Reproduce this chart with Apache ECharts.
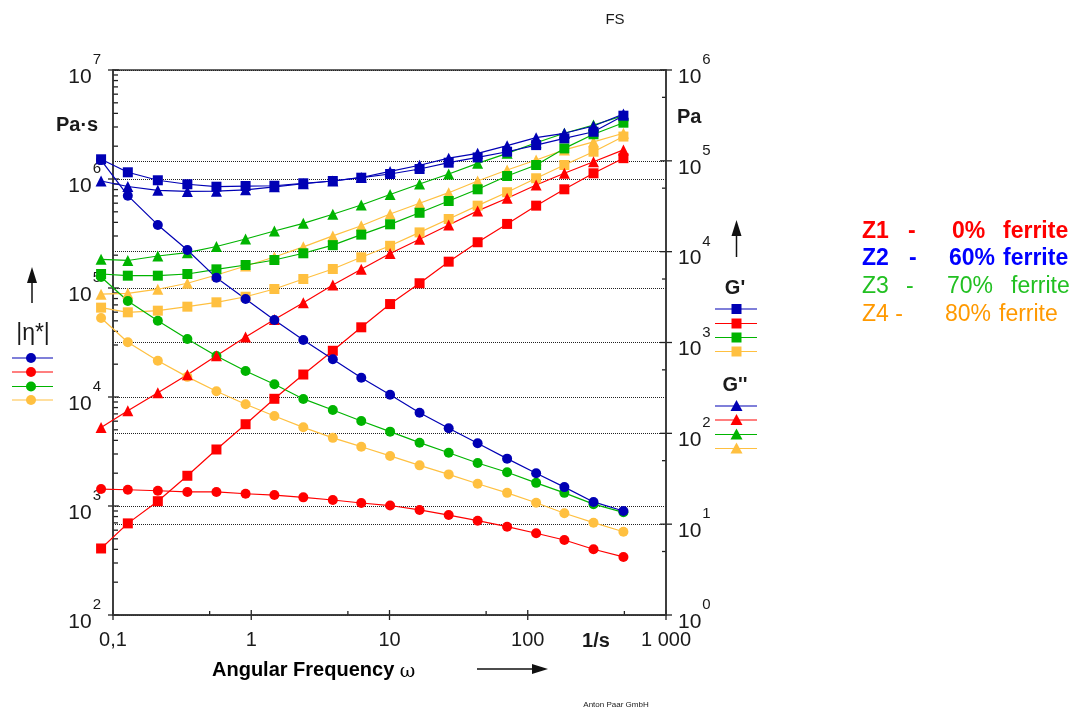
<!DOCTYPE html>
<html>
<head>
<meta charset="utf-8">
<title>FS</title>
<script src="https://cdn.jsdelivr.net/npm/echarts@6/dist/echarts.min.js"></script>
<style>
  html, body { margin: 0; padding: 0; background: #fff; }
  #chart { width: 1073px; height: 711px; }
</style>
</head>
<body>
<div id="chart"></div>
<script>
'use strict';

// angular frequency, 1/s
const freq = [0.082, 0.128, 0.211, 0.345, 0.56, 0.91, 1.47, 2.38, 3.89, 6.25, 10.1, 16.5, 26.8, 43.4, 70.9, 115, 184, 299, 492];

// |eta*|, Pa·s
const etaZ1 = [1430, 1410, 1380, 1345, 1345, 1295, 1260, 1200, 1135, 1065, 1010, 920, 826, 733, 646, 562, 488, 401, 341];
const etaZ2 = [1.49e6, 7.03e5, 3.79e5, 2.23e5, 1.24e5, 7.92e4, 5.08e4, 3.33e4, 2.22e4, 1.50e4, 1.05e4, 7180, 5160, 3760, 2720, 2000, 1490, 1090, 900];
const etaZ3 = [1.26e5, 7.6e4, 5.01e4, 3.40e4, 2.38e4, 1.73e4, 1.31e4, 9600, 7600, 6030, 4810, 3810, 3080, 2480, 2040, 1630, 1320, 1040, 875];
const etaZ4 = [5.31e4, 3.18e4, 2.15e4, 1.53e4, 1.13e4, 8590, 6690, 5270, 4220, 3500, 2880, 2360, 1950, 1600, 1320, 1070, 858, 703, 581];

// G', Pa
const gpZ1 = [5.4, 10.2, 17.9, 34.1, 66.4, 126, 240, 444, 811, 1470, 2650, 4490, 7760, 12700, 20200, 32100, 48600, 72900, 107000];
const gpZ2 = [1.04e5, 7.48e4, 6.11e4, 5.52e4, 5.19e4, 5.28e4, 5.32e4, 5.66e4, 6.0e4, 6.52e4, 7.16e4, 8.13e4, 9.54e4, 1.09e5, 1.26e5, 1.49e5, 1.77e5, 2.09e5, 3.14e5];
const gpZ3 = [5680, 5440, 5440, 5680, 6390, 7130, 8090, 9600, 11800, 15400, 20000, 26800, 36100, 48600, 68100, 90000, 137000, 196000, 263000];
const gpZ4 = [2420, 2150, 2240, 2480, 2770, 3190, 3880, 5000, 6440, 8670, 11600, 16300, 22900, 32100, 45100, 64300, 90000, 126000, 185000];

// G'', Pa
const gppZ1 = [116, 177, 280, 442, 715, 1150, 1790, 2740, 4290, 6390, 9550, 13700, 19700, 28100, 38700, 54200, 72900, 97800, 132000];
const gppZ2 = [6.0e4, 5.22e4, 4.74e4, 4.6e4, 4.63e4, 4.8e4, 5.18e4, 5.59e4, 6.0e4, 6.56e4, 7.64e4, 8.94e4, 1.07e5, 1.21e5, 1.47e5, 1.80e5, 2.01e5, 2.42e5, 3.28e5];
const gppZ3 = [8240, 8000, 8960, 9750, 11400, 13800, 16900, 20500, 25800, 32600, 42600, 55600, 71600, 93900, 121000, 158000, 201000, 248000, 314000];
const gppZ4 = [3400, 3480, 3860, 4490, 5540, 6950, 8730, 11300, 14900, 19300, 26000, 34100, 44600, 60000, 79300, 102000, 132000, 162000, 201000];

// axes
const xRange = [0.1, 1000];
const xPad = 0.06;          // first points sit left of the 0,1 axis
const etaRange = [1e2, 1e7];
const gRange = [1e0, 1e6];
const xLabels = { '0.1': '0,1', '1': '1', '10': '10', '100': '100', '1000': '1 000' };
const leftMinor = [2, 3, 4, 5, 6, 7, 8, 9];
const rightMinor = [5];
const xMinor = [5];

const blue = '#0000b4', red = '#ff0000', green = '#00b400', orange = '#ffc040';
const FONT = '"Liberation Sans", Arial, sans-serif';
const INK = '#1a1a1a';

const W = 1073, H = 711;
const G = { left: 113, right: 407, top: 70, bottom: 96 };
const decadePx = (W - G.left - G.right) / Math.log10(xRange[1] / xRange[0]);
const padLeft = G.left - decadePx * Math.log10(xRange[0] / xPad);

const chart = echarts.init(document.getElementById('chart'), null, { renderer: 'canvas' });

function sup(v) {
  return '{b|10}{e|' + Math.round(Math.log10(v)) + '}';
}
const supRich = {
  b: { fontSize: 21, fontFamily: FONT, color: INK, padding: [14, 0, 0, 0] },
  e: { fontSize: 15, fontFamily: FONT, color: INK, padding: [0, 0, 20, 1] }
};

// series live on a hidden twin grid that reaches a little past the left axis
function line(name, vals, yIdx, symbol, color, size) {
  return {
    name: name, type: 'line', xAxisIndex: 1, yAxisIndex: yIdx, clip: false,
    data: freq.map((f, i) => [f, vals[i]]),
    symbol: symbol, symbolSize: size, showAllSymbol: true,
    lineStyle: { color: color, width: 1.2 },
    itemStyle: { color: color },
    emphasis: { disabled: true }
  };
}

const series = [
  line('eta Z4', etaZ4, 2, 'circle', orange, 10),
  line("G' Z4", gpZ4, 3, 'rect', orange, 10),
  line("G'' Z4", gppZ4, 3, 'triangle', orange, 11),
  line('eta Z3', etaZ3, 2, 'circle', green, 10),
  line("G' Z3", gpZ3, 3, 'rect', green, 10),
  line("G'' Z3", gppZ3, 3, 'triangle', green, 11),
  line('eta Z1', etaZ1, 2, 'circle', red, 10),
  line("G' Z1", gpZ1, 3, 'rect', red, 10),
  line("G'' Z1", gppZ1, 3, 'triangle', red, 11),
  line('eta Z2', etaZ2, 2, 'circle', blue, 10),
  line("G' Z2", gpZ2, 3, 'rect', blue, 10),
  line("G'' Z2", gppZ2, 3, 'triangle', blue, 11)
];

const gridLine = { show: true, lineStyle: { type: [1, 1], color: '#222', width: 1 } };
const hidden = { show: false, splitLine: { show: false } };

chart.setOption({
  animation: false,
  backgroundColor: '#fff',
  grid: [
    { left: G.left, right: G.right, top: G.top, bottom: G.bottom, show: true, borderColor: '#333', borderWidth: 1.5 },
    { left: padLeft, right: G.right, top: G.top, bottom: G.bottom }
  ],
  xAxis: [
    {
      type: 'log', logBase: 10, min: xRange[0], max: xRange[1], gridIndex: 0,
      axisLine: { lineStyle: { color: '#333', width: 1.5 } },
      axisTick: { show: false },
      splitLine: { show: false },
      axisLabel: {
        margin: 15, fontSize: 20, fontFamily: FONT, color: INK,
        formatter: v => xLabels[String(+v.toPrecision(6))] || String(v)
      }
    },
    Object.assign({ type: 'log', logBase: 10, min: xPad, max: xRange[1], gridIndex: 1 }, hidden)
  ],
  yAxis: [
    {
      type: 'log', logBase: 10, min: etaRange[0], max: etaRange[1], position: 'left', gridIndex: 0,
      axisLine: { show: true, lineStyle: { color: '#333', width: 1.5 } },
      axisTick: { show: false },
      splitLine: gridLine,
      axisLabel: { margin: 12, formatter: sup, rich: supRich }
    },
    {
      type: 'log', logBase: 10, min: gRange[0], max: gRange[1], position: 'right', gridIndex: 0,
      axisLine: { show: true, lineStyle: { color: '#333', width: 1.5 } },
      axisTick: { show: false },
      splitLine: gridLine,
      axisLabel: { margin: 12, formatter: sup, rich: supRich }
    },
    Object.assign({ type: 'log', logBase: 10, min: etaRange[0], max: etaRange[1], gridIndex: 1 }, hidden),
    Object.assign({ type: 'log', logBase: 10, min: gRange[0], max: gRange[1], gridIndex: 1 }, hidden)
  ],
  series: series
});

// legend blocks and annotations
function mark(kind, x, y, color) {
  if (kind === 'circle') return { type: 'circle', shape: { cx: x, cy: y, r: 5 }, style: { fill: color } };
  if (kind === 'rect') return { type: 'rect', shape: { x: x - 5, y: y - 5, width: 10, height: 10 }, style: { fill: color } };
  return { type: 'polygon', shape: { points: [[x, y - 6], [x + 6, y + 5], [x - 6, y + 5]] }, style: { fill: color } };
}
function keyRow(x1, x2, xm, y, kind, color) {
  return [
    { type: 'line', shape: { x1: x1, y1: y, x2: x2, y2: y }, style: { stroke: color, lineWidth: 1.2 } },
    mark(kind, xm, y, color)
  ];
}
function txt(s, x, y, opt) {
  return {
    type: 'text', x: x, y: y,
    style: Object.assign({ text: s, fontFamily: FONT, fontSize: 20, fill: INK, align: 'left', verticalAlign: 'middle' }, opt || {})
  };
}
function arrowUp(x, yTop, yBot) {
  return [
    { type: 'line', shape: { x1: x, y1: yTop + 12, x2: x, y2: yBot }, style: { stroke: '#111', lineWidth: 1.5 } },
    { type: 'polygon', shape: { points: [[x, yTop], [x + 5, yTop + 16], [x - 5, yTop + 16]] }, style: { fill: '#111' } }
  ];
}

const colors = [blue, red, green, orange];
let deco = [];
deco.push(txt('FS', 615, 20, { align: 'center', fontSize: 15 }));
deco.push(txt('Pa·s', 56, 125, { fontWeight: 'bold' }));
deco.push(txt('Pa', 677, 117, { fontWeight: 'bold' }));
deco = deco.concat(arrowUp(32, 267, 303));
deco.push(txt('|η*|', 33, 334, { align: 'center', fontSize: 23 }));
[358, 372, 386.5, 400].forEach((y, i) => { deco = deco.concat(keyRow(12, 53, 31, y, 'circle', colors[i])); });
deco = deco.concat(arrowUp(736.5, 220, 257));
deco.push(txt("G'", 735, 288, { align: 'center', fontWeight: 'bold' }));
[309, 323.5, 337.5, 351.5].forEach((y, i) => { deco = deco.concat(keyRow(715, 757, 736.5, y, 'rect', colors[i])); });
deco.push(txt("G''", 735, 385, { align: 'center', fontWeight: 'bold' }));
[406, 420, 434.5, 448.5].forEach((y, i) => { deco = deco.concat(keyRow(715, 757, 736.5, y, 'triangle', colors[i])); });
deco.push({
  type: 'text', x: 212, y: 670,
  style: {
    text: '{a|Angular Frequency }{w|ω}', verticalAlign: 'middle',
    rich: {
      a: { fontFamily: FONT, fontSize: 20, fontWeight: 'bold', color: INK },
      w: { fontFamily: '"DejaVu Serif", serif', fontSize: 19, color: INK, padding: [4, 0, 0, 0] }
    }
  }
});
deco.push({ type: 'line', shape: { x1: 477, y1: 669, x2: 536, y2: 669 }, style: { stroke: '#111', lineWidth: 1.5 } });
deco.push({ type: 'polygon', shape: { points: [[548, 669], [532, 664], [532, 674]] }, style: { fill: '#111' } });
deco.push(txt('1/s', 596, 641, { align: 'center', fontWeight: 'bold' }));
deco.push(txt('Anton Paar GmbH', 616, 705, { align: 'center', fontSize: 8 }));

// sample key text
const keyText = [
  { y: 231.5, color: '#ff0000', bold: true, parts: [['Z1', 862], ['-', 908], ['0%', 952], ['ferrite', 1003]] },
  { y: 259, color: '#0000ff', bold: true, parts: [['Z2', 862], ['-', 909], ['60%', 949], ['ferrite', 1003]] },
  { y: 287, color: '#22c022', bold: false, parts: [['Z3', 862], ['-', 906], ['70%', 947], ['ferrite', 1011]] },
  { y: 315, color: '#ff9900', bold: false, parts: [['Z4 -', 862], ['80%', 945], ['ferrite', 999]] }
];
keyText.forEach(row => {
  row.parts.forEach(p => {
    deco.push(txt(p[0], p[1], row.y, { fill: row.color, fontSize: 23, fontWeight: row.bold ? 'bold' : 'normal' }));
  });
});

// axis ticks from the chart's own scales
function ticks() {
  const px = v => chart.convertToPixel({ xAxisIndex: 0 }, v);
  const pl = v => chart.convertToPixel({ yAxisIndex: 0 }, v);
  const pr = v => chart.convertToPixel({ yAxisIndex: 1 }, v);
  const xl = px(xRange[0]), xr = px(xRange[1]), yb = pl(etaRange[0]);
  const out = [];
  const seg = (x1, y1, x2, y2) => out.push({ type: 'line', silent: true, shape: { x1: x1, y1: y1, x2: x2, y2: y2 }, style: { stroke: '#222', lineWidth: 1.3 } });
  for (let e = 2; e <= 7; e++) {
    seg(xl - 5, pl(Math.pow(10, e)), xl + 6, pl(Math.pow(10, e)));
    if (e < 7) leftMinor.forEach(m => { const y = pl(m * Math.pow(10, e)); seg(xl, y, xl + 5, y); });
  }
  for (let e = 0; e <= 6; e++) {
    seg(xr - 6, pr(Math.pow(10, e)), xr + 6, pr(Math.pow(10, e)));
    if (e < 6) rightMinor.forEach(m => { const y = pr(m * Math.pow(10, e)); seg(xr - 4, y, xr, y); });
  }
  for (let e = -1; e <= 3; e++) {
    seg(px(Math.pow(10, e)), yb - 5, px(Math.pow(10, e)), yb + 5);
    if (e < 3) xMinor.forEach(m => { const x = px(m * Math.pow(10, e)); seg(x, yb - 4, x, yb); });
  }
  return out;
}

chart.setOption({ graphic: deco.concat(ticks()) });
</script>
</body>
</html>
